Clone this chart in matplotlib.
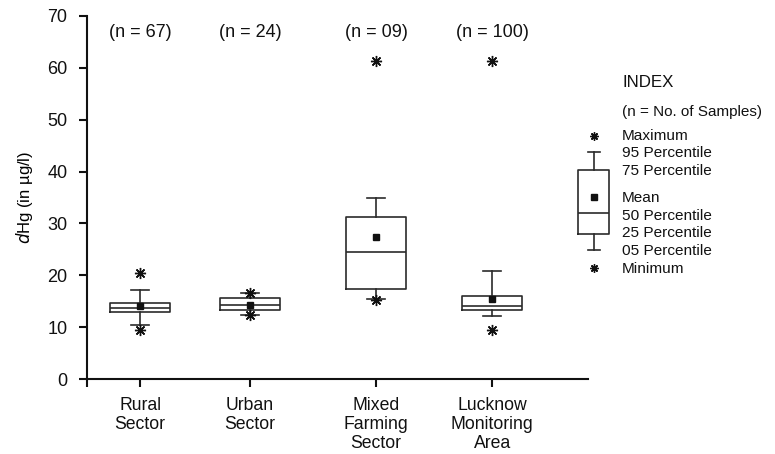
import matplotlib
matplotlib.use("Agg")
import matplotlib.pyplot as plt

plt.rcParams['font.family'] = ['Liberation Sans', 'DejaVu Sans']

# data (dHg in ug/l)
categories = ["Rural\nSector", "Urban\nSector", "Mixed\nFarming\nSector", "Lucknow\nMonitoring\nArea"]
n_labels = ["(n = 67)", "(n = 24)", "(n = 09)", "(n = 100)"]
positions = [1, 2, 3.145, 4.2]
q1 = [12.9, 13.3, 17.4, 13.3]
med = [13.8, 14.4, 24.6, 14.1]
q3 = [14.7, 15.6, 31.2, 16.1]
p05 = [10.5, 12.4, 15.4, 12.2]
p95 = [17.2, 16.7, 34.9, 20.9]
means = [14.1, 14.3, 27.4, 15.4]
minimum = [9.5, 12.4, 15.3, 9.5]
maximum = [20.5, 16.7, 61.2, 61.2]

# index (legend) box, illustrative values
idx_stats = dict(whislo=24.9, q1=27.9, med=32.0, q3=40.25, whishi=43.7, mean=35.1)
idx_min, idx_max = 21.5, 46.8
idx_labels = [("Maximum", 46.8), ("95 Percentile", 43.5), ("75 Percentile", 40.1),
              ("Mean", 34.9), ("50 Percentile", 31.5), ("25 Percentile", 28.1),
              ("05 Percentile", 24.7), ("Minimum", 21.3)]

INK = "#2b2b2b"
STAR = (8, 2, 0)

fig = plt.figure(figsize=(7.75, 4.54), dpi=100)
ax = fig.add_axes([87 / 775, 1 - 379.3 / 454, 501 / 775, 363.6 / 454])

stats = []
for i in range(len(categories)):
    stats.append(dict(whislo=p05[i], q1=q1[i], med=med[i], q3=q3[i], whishi=p95[i],
                      mean=means[i], fliers=[minimum[i], maximum[i]]))

box_kw = dict(
    widths=0.545, showmeans=True, patch_artist=False,
    boxprops=dict(color=INK, linewidth=1.2),
    medianprops=dict(color=INK, linewidth=1.2),
    whiskerprops=dict(color=INK, linewidth=1.2),
    capprops=dict(color=INK, linewidth=1.2),
    meanprops=dict(marker="s", markerfacecolor="#111111", markeredgecolor="#111111", markersize=4.5),
)
ax.bxp(stats, positions=positions, capwidths=0.16, manage_ticks=False,
       flierprops=dict(marker=STAR, markeredgecolor="#111111", markerfacecolor="#111111",
                       markersize=8, markeredgewidth=1.0),
       **box_kw)

for x, t in zip(positions, n_labels):
    ax.text(x, 66.8, t, ha="center", va="center", fontsize=13, color="#111111")

ax.set_xlim(0.518, 5.07)
ax.set_ylim(0, 70)
ax.set_yticks(range(0, 71, 10))
ax.set_xticks([0.518] + positions)
ax.set_xticklabels([""] + categories, fontsize=12.7, linespacing=1.15)
ax.tick_params(axis="y", labelsize=13, length=6, width=1.5, pad=8, colors="#111111")
ax.tick_params(axis="x", length=6, width=1.5, pad=7, colors="#111111")
for s in ["top", "right"]:
    ax.spines[s].set_visible(False)
for s in ["left", "bottom"]:
    ax.spines[s].set_linewidth(1.5)
    ax.spines[s].set_color("#111111")
ax.set_ylabel(r"$d$Hg (in µg/l)", fontsize=12, labelpad=9)

# index box to the right
lax = fig.add_axes([563.8 / 775, 1 - 379.3 / 454, 200 / 775, 363.6 / 454])
lax.set_xlim(0, 200 / 60)
lax.set_ylim(0, 70)
lax.axis("off")
idx_kw = dict(box_kw)
idx_kw["widths"] = 0.517
idx_kw["meanprops"] = dict(marker="s", markerfacecolor="#111111", markeredgecolor="#111111", markersize=5)
lax.bxp([dict(idx_stats, fliers=[idx_min, idx_max])], positions=[0.5], capwidths=0.2,
        manage_ticks=False,
        flierprops=dict(marker=STAR, markeredgecolor="#111111", markerfacecolor="#111111",
                        markersize=6, markeredgewidth=1.0),
        **idx_kw)
lax.text(0.97, 57.2, "INDEX", fontsize=12.2, va="center", color="#111111")
lax.text(0.97, 51.4, "(n = No. of Samples)", fontsize=11, va="center", color="#111111")
for t, y in idx_labels:
    lax.text(0.97, y, t, fontsize=11.1, va="center", color="#111111")

fig.savefig("out.png", dpi=100, facecolor="white")
